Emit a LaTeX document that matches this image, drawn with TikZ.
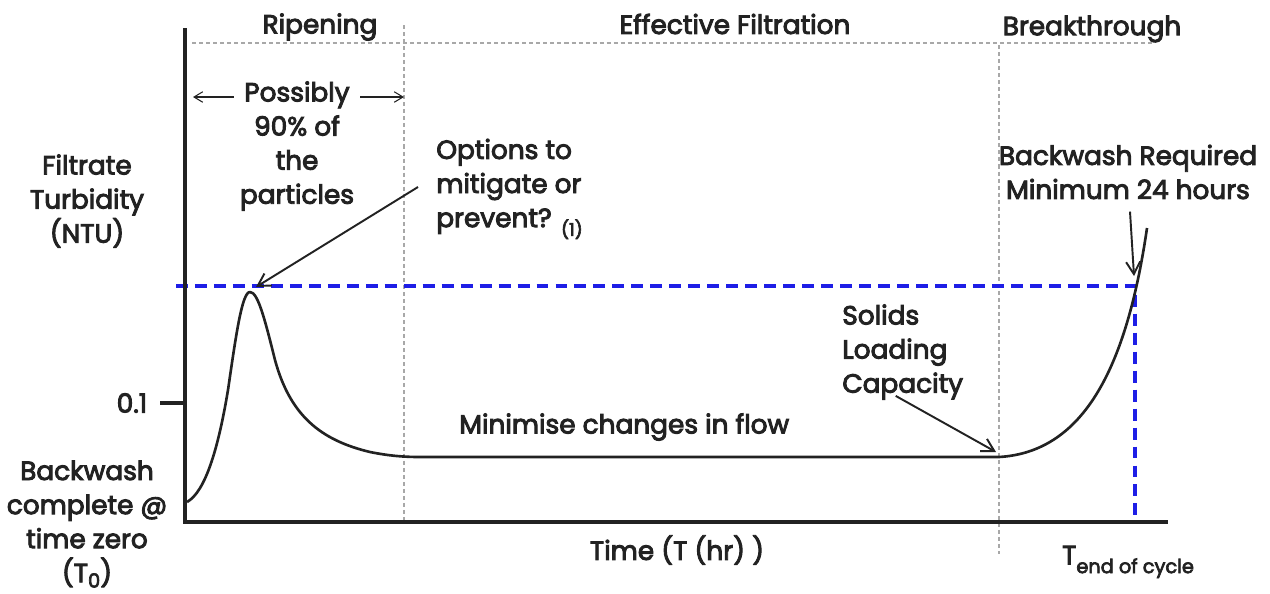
\documentclass[tikz,border=0pt]{standalone}
\usepackage{fontspec}
\setmainfont{Poppins}[FakeBold=3.5]
\usetikzlibrary{arrows.meta}
\definecolor{ink}{HTML}{222222}
\definecolor{guide}{HTML}{A8A8A8}
\definecolor{limit}{HTML}{1E1EE6}
\begin{document}
\begin{tikzpicture}[x=0.02cm,y=-0.02cm,
  lbl/.style={text=ink,font=\fontsize{15}{19.4}\selectfont,align=center,inner sep=0pt},
  lbll/.style={lbl,align=left},
  axis/.style={line width=2.8pt,ink},
  guideline/.style={guide,line width=0.8pt,dash pattern=on 2.3pt off 1.7pt},
  limitline/.style={limit,line width=2pt,dash pattern=on 6.8pt off 4pt},
  curve/.style={ink,line width=1.5pt,line join=round},
  pointer/.style={ink,line width=1.1pt,-{Straight Barb[length=7pt,width=8pt]}},
  span/.style={ink,line width=0.6pt,-{Straight Barb[length=5pt,width=6pt]}}]
\useasboundingbox (0,0) rectangle (1270,593);

% reference points
\coordinate (origin) at (185,522);
\coordinate (ytop) at (185,28);
\coordinate (xend) at (1168,522);
\coordinate (peak) at (256,287);
\coordinate (knee) at (996,452);
\coordinate (hit) at (1134,276);
\coordinate (limL) at (176,286);
\coordinate (limR) at (1135,286);
\coordinate (limB) at (1135,522);

% phase boundaries
\draw[guideline] (192,43) -- (1152,43);
\draw[guideline] (404,25) -- (404,520);
\draw[guideline] (999,45) -- (999,554);

% turbidity limit
\draw[limitline] (limL) -- (limR) -- (limB);

% axes
\draw[axis] (ytop) -- (origin) -- (xend);
\draw[axis] (160,403) -- (185,403);

% filtrate turbidity over the run
\draw[curve] (187,502) .. controls (205,492) and (218,450) .. (228,390)
  .. controls (236,335) and (242,292) .. (250,292)
  .. controls (258,292) and (265,320) .. (275,360)
  .. controls (290,415) and (320,440) .. (370,452)
  .. controls (390,456) and (405,457) .. (420,457)
  -- (999,457) .. controls (1085,452) and (1127,365) .. (1147,228);

% labels
\node[lbl] (ripen) at (320,27) {Ripening};
\node[lbl] (effect) at (735,24) {Effective Filtration};
\node[lbl] (brk) at (1092,29) {Breakthrough};
\node[lbl] (possibly) at (297,146) {Possibly\\90\% of\\the\\particles};
\node[lbl] (yname) at (87,201) {Filtrate\\Turbidity\\(NTU)};
\node[lbll,anchor=west] (options) at (436,189) {Options to\\mitigate or\\prevent? \raisebox{-5pt}{\fontsize{10}{11}\selectfont(1)}};
\node[lbl] (bwreq) at (1128,172) {Backwash Required\\Minimum 24 hours};
\node[lbll,anchor=west] (solids) at (842,352) {Solids\\Loading\\Capacity};
\node[lbl] (tick) at (132,403) {0.1};
\node[lbll,anchor=west] (flow) at (459,427) {Minimise changes in flow};
\node[lbl] (start) at (87,524) {Backwash\\complete @\\time zero\\(T\raisebox{-3pt}{\fontsize{11}{12}\selectfont 0})};
\node[lbl] (xname) at (677,550) {Time (T (hr) )};
\node[lbl] (tend) at (1128,562) {T\raisebox{-5pt}{\fontsize{11}{12}\selectfont end of cycle}};

% span of the ripening phase
\coordinate (spanL) at (193,97);
\coordinate (spanR) at (404,97);
\draw[span] (possibly.north west |- spanL) ++(-6,0) -- (spanL);
\draw[span] (possibly.north east |- spanR) ++(6,0) -- (spanR);

% pointers
\draw[pointer] (options.west) ++(-18,-2) -- (peak);
\draw[pointer] (solids.south) ++(-7,-4) -- (knee);
\draw[pointer] (bwreq.south) ++(2,12) -- (hit);
\end{tikzpicture}
\end{document}
